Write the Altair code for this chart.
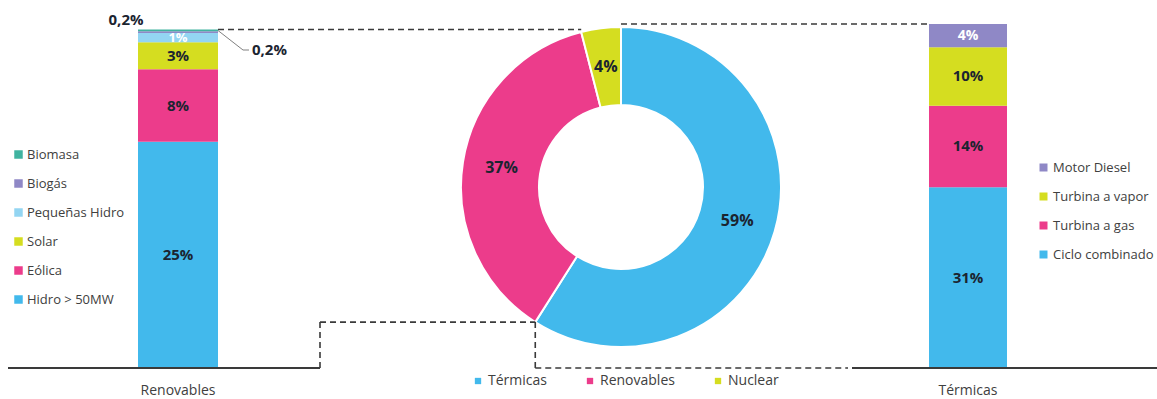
import math
import altair as alt
import pandas as pd

# ---------------- data ----------------
ren_cats = ["Hidro > 50MW", "Eólica", "Solar", "Pequeñas Hidro", "Biogás", "Biomasa"]
ren_vals = [25, 8, 3, 1, 0.2, 0.2]
ren_labels = ["25%", "8%", "3%", "1%", "0,2%", "0,2%"]
ren_colors = ["#42b9ec", "#ec3c8b", "#d5dd20", "#93d5f2", "#8f88c6", "#40b3a0"]

ter_cats = ["Ciclo combinado", "Turbina a gas", "Turbina a vapor", "Motor Diesel"]
ter_vals = [31, 14, 10, 4]
ter_labels = ["31%", "14%", "10%", "4%"]
ter_colors = ["#42b9ec", "#ec3c8b", "#d5dd20", "#8f88c6"]

mix_cats = ["Térmicas", "Renovables", "Nuclear"]
mix_vals = [59, 37, 4]
mix_labels = ["59%", "37%", "4%"]
mix_colors = ["#42b9ec", "#ec3c8b", "#d5dd20"]

# ---------------- layout ----------------
W, H = 1157, 368
BASE_Y = 368
L_X = [138, 218]
R_X = [929, 1007]
L_TOP, R_TOP = 29.5, 24
CX, CY = 621, 187
R_OUT, R_IN = 160, 82
FONT = "Open Sans"
DARK = "#1b2430"
GREY = "#404040"


def stack_df(cats, vals, labels, group):
    rows, acc = [], 0.0
    for i, (c, v, l) in enumerate(zip(cats, vals, labels)):
        rows.append(dict(grupo=group, cat=c, v0=acc, v1=acc + v, mid=acc + v / 2,
                         label=l, orden=i))
        acc += v
    return pd.DataFrame(rows), acc


df_ren, ren_total = stack_df(ren_cats, ren_vals, ren_labels, "Renovables")
df_ter, ter_total = stack_df(ter_cats, ter_vals, ter_labels, "Térmicas")
df_mix = pd.DataFrame({"tipo": mix_cats, "valor": mix_vals, "label": mix_labels,
                       "orden": list(range(len(mix_cats)))})


def legend(x, y, size=13, **kw):
    return alt.Legend(title=None, orient="none", legendX=x, legendY=y,
                      symbolType="square", symbolStrokeWidth=0, padding=0,
                      labelFont=FONT, labelFontSize=size, labelColor=GREY, **kw)


def axis_x():
    return alt.Axis(title=None, orient="bottom", domain=False, ticks=False, labelAngle=0,
                    labelPadding=15, labelFont=FONT, labelFontSize=14,
                    labelColor=GREY)


# ---------------- left bar ----------------
xL = alt.X("grupo:N", scale=alt.Scale(domain=["Renovables"], range=L_X,
                                      paddingInner=0, paddingOuter=0), axis=axis_x())
yL_scale = alt.Scale(domain=[0, ren_total], range=[BASE_Y, L_TOP], nice=False, zero=False)

bar_left = alt.Chart(df_ren).mark_bar().encode(
    x=xL,
    y=alt.Y("v0:Q", scale=yL_scale, axis=None),
    y2="v1:Q",
    color=alt.Color("cat:N", scale=alt.Scale(domain=ren_cats[::-1], range=ren_colors[::-1]),
                    legend=legend(12, 148, symbolSize=72, rowPadding=15, labelOffset=2)),
)
txt_left = alt.Chart(df_ren.iloc[:3]).mark_text(
    font=FONT, fontSize=15, fontWeight="bold", color=DARK).encode(
    x=xL, y=alt.Y("mid:Q", scale=yL_scale, axis=None), text="label:N")
txt_left_w = alt.Chart(df_ren.iloc[3:4]).mark_text(
    font=FONT, fontSize=13, fontWeight="bold", color="white").encode(
    x=xL, y=alt.Y("mid:Q", scale=yL_scale, axis=None), text="label:N")
txt_biomasa = alt.Chart(df_ren[df_ren["cat"] == "Biomasa"]).mark_text(
    font=FONT, fontSize=15, fontWeight="bold", color=DARK, dx=-52, dy=-10).encode(
    x=xL, y=alt.Y("mid:Q", scale=yL_scale, axis=None), text="label:N")
txt_biogas = alt.Chart(df_ren[df_ren["cat"] == "Biogás"]).mark_text(
    font=FONT, fontSize=15, fontWeight="bold", color=DARK, align="left", dx=74, dy=18).encode(
    x=xL, y=alt.Y("mid:Q", scale=yL_scale, axis=None), text="label:N")
left = alt.layer(bar_left, txt_left, txt_left_w, txt_biomasa, txt_biogas)

# ---------------- right bar ----------------
xR = alt.X("grupo:N", scale=alt.Scale(domain=["Térmicas"], range=R_X,
                                      paddingInner=0, paddingOuter=0), axis=axis_x())
yR_scale = alt.Scale(domain=[0, ter_total], range=[BASE_Y, R_TOP], nice=False, zero=False)
bar_right = alt.Chart(df_ter).mark_bar().encode(
    x=xR,
    y=alt.Y("v0:Q", scale=yR_scale, axis=None),
    y2="v1:Q",
    color=alt.Color("cat:N", scale=alt.Scale(domain=ter_cats[::-1], range=ter_colors[::-1]),
                    legend=legend(1037, 161, symbolSize=64, rowPadding=15, labelOffset=3)),
)
txt_right = alt.Chart(df_ter.iloc[:3]).mark_text(
    font=FONT, fontSize=15, fontWeight="bold", color=DARK).encode(
    x=xR, y=alt.Y("mid:Q", scale=yR_scale, axis=None), text="label:N")
txt_right_w = alt.Chart(df_ter.iloc[3:]).mark_text(
    font=FONT, fontSize=14, fontWeight="bold", color="white").encode(
    x=xR, y=alt.Y("mid:Q", scale=yR_scale, axis=None), text="label:N")
right = alt.layer(bar_right, txt_right, txt_right_w)

# ---------------- donut ----------------
theta = alt.Theta("valor:Q", stack=True)
order = alt.Order("orden:Q", sort="ascending")
arc = alt.Chart(df_mix).mark_arc(radius=R_OUT, radius2=R_IN, stroke="white", strokeWidth=2).encode(
    theta=theta, order=order, x=alt.value(CX), y=alt.value(CY),
    color=alt.Color("tipo:N", scale=alt.Scale(domain=mix_cats, range=mix_colors),
                    legend=legend(471, 374, size=14, direction="horizontal", symbolSize=40,
                                  columnPadding=36, labelOffset=3)),
)
arc_txt = alt.Chart(df_mix).mark_text(
    radius=(R_OUT + R_IN) / 2, font=FONT, fontSize=16, fontWeight="bold", color=DARK).encode(
    theta=theta, order=order, x=alt.value(CX), y=alt.value(CY), text="label:N")
donut = alt.layer(arc, arc_txt)

# ---------------- connectors ----------------
tot = sum(mix_vals)


def rim(frac):
    a = frac * 2 * math.pi
    return CX + R_OUT * math.sin(a), CY - R_OUT * math.cos(a)


top_ren = rim((mix_vals[0] + mix_vals[1]) / tot)
bot = rim(mix_vals[0] / tot)
STEP_X = 320
segs = pd.DataFrame([
    dict(x=L_X[1], y=L_TOP, x2=top_ren[0], y2=L_TOP, kind="dash"),
    dict(x=CX, y=R_TOP, x2=R_X[0], y2=R_TOP, kind="dash"),
    dict(x=STEP_X, y=BASE_Y, x2=STEP_X, y2=bot[1], kind="dash"),
    dict(x=STEP_X, y=bot[1], x2=bot[0], y2=bot[1], kind="dash"),
    dict(x=bot[0], y=bot[1], x2=bot[0], y2=BASE_Y, kind="dash"),
    dict(x=bot[0], y=BASE_Y, x2=848, y2=BASE_Y, kind="dash"),
    dict(x=8, y=BASE_Y, x2=STEP_X, y2=BASE_Y, kind="solid"),
    dict(x=852, y=BASE_Y, x2=W, y2=BASE_Y, kind="solid"),
    dict(x=L_X[1], y=L_TOP + 1, x2=243, y2=50, kind="leader"),
    dict(x=243, y=50, x2=249, y2=50, kind="leader"),
])
px = alt.Scale(domain=[0, W], range=[0, W], nice=False, zero=False)
py = alt.Scale(domain=[0, H], range=[0, H], nice=False, zero=False)


def seg_layer(kind, **mk):
    return alt.Chart(segs[segs["kind"] == kind]).mark_rule(**mk).encode(
        x=alt.X("x:Q", scale=px, axis=None), x2="x2:Q",
        y=alt.Y("y:Q", scale=py, axis=None), y2="y2:Q")


lines = alt.layer(
    seg_layer("dash", color="#3a3a3a", strokeWidth=1.6, strokeDash=[6, 4]),
    seg_layer("solid", color="#3a3a3a", strokeWidth=2),
    seg_layer("leader", color="#808080", strokeWidth=1),
)

chart = alt.layer(left, donut, right, lines).resolve_scale(
    x="independent", y="independent", color="independent", theta="independent"
).properties(
    width=W, height=H, autosize="none",
    padding={"left": 0, "top": 0, "right": 0, "bottom": 31},
).configure_view(stroke=None)

chart.save("out.html", embed_options={"renderer": "svg", "actions": False})
